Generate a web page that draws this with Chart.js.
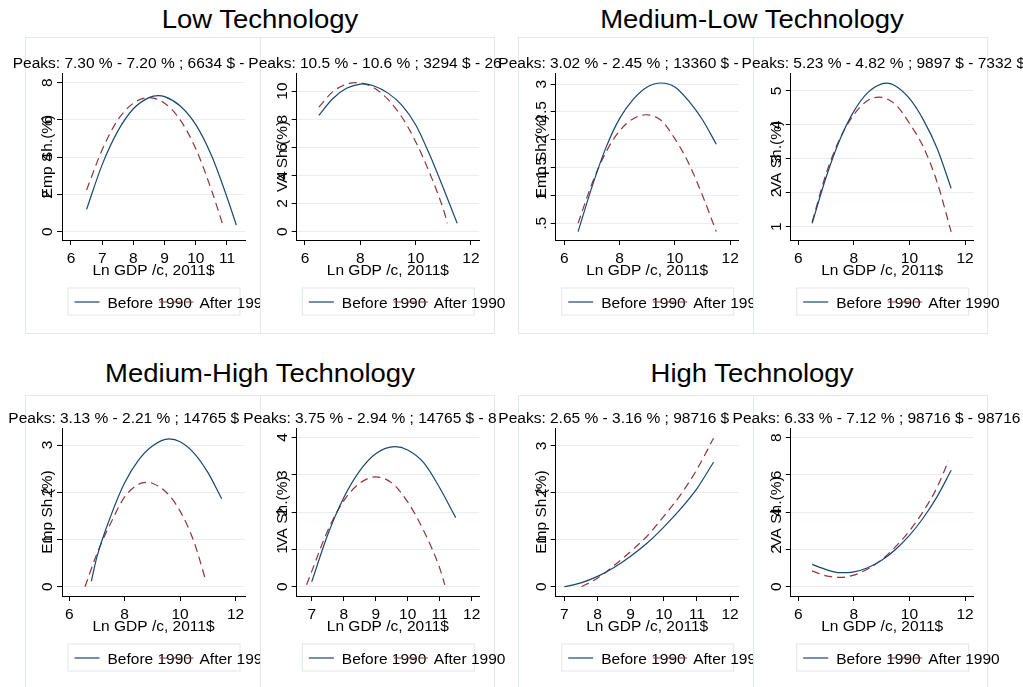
<!DOCTYPE html>
<html>
<head>
<meta charset="utf-8">
<script src="https://cdn.jsdelivr.net/npm/chart.js@4"></script>
<style>
  html, body { margin: 0; padding: 0; background: #fff; }
  body { width: 1023px; height: 687px; position: relative; overflow: hidden; font-family: "Liberation Sans", Arial, sans-serif; }
  .box { position: absolute; border: 1px solid #e1e9ee; box-sizing: border-box; }
  canvas { position: absolute; }
  .title { position: absolute; width: 400px; text-align: center; font-size: 25px; line-height: 24px; color: #000; transform: scaleX(1.1); }
</style>
</head>
<body>
<div class="box" style="left:25px;top:37px;width:236px;height:297px"></div>
<div class="box" style="left:260px;top:37px;width:235px;height:297px"></div>
<div class="box" style="left:518px;top:37px;width:236px;height:297px"></div>
<div class="box" style="left:753px;top:37px;width:235px;height:297px"></div>
<div class="box" style="left:25px;top:395px;width:236px;height:300px"></div>
<div class="box" style="left:260px;top:395px;width:235px;height:300px"></div>
<div class="box" style="left:518px;top:395px;width:236px;height:300px"></div>
<div class="box" style="left:753px;top:395px;width:235px;height:300px"></div>

<canvas id="p1"></canvas><canvas id="p2"></canvas><canvas id="p3"></canvas><canvas id="p4"></canvas>
<canvas id="p5"></canvas><canvas id="p6"></canvas><canvas id="p7"></canvas><canvas id="p8"></canvas>

<div class="title" style="left:60px;top:7px">Low Technology</div>
<div class="title" style="left:552px;top:7px">Medium-Low Technology</div>
<div class="title" style="left:60px;top:361px">Medium-High Technology</div>
<div class="title" style="left:552px;top:361px">High Technology</div>

<script>
// Low technology - employment share
const lowEmpBeforeX = [6.5, 7, 7.5, 8, 8.5, 8.8, 9, 9.5, 10, 10.5, 11, 11.3];
const lowEmpBeforeY = [1.2, 3.6, 5.4, 6.6, 7.2, 7.3, 7.25, 6.75, 5.75, 4.1, 1.85, 0.35];
const lowEmpAfterX = [6.5, 7, 7.5, 8, 8.5, 9, 9.5, 10, 10.5, 10.86];
const lowEmpAfterY = [2.24, 4.4, 6.0, 6.9, 7.2, 6.9, 6.0, 4.45, 2.25, 0.4];
// Low technology - value added share
const lowVaBeforeX = [6.5, 7, 7.5, 8, 8.1, 8.5, 9, 9.5, 10, 10.5, 11, 11.5];
const lowVaBeforeY = [8.26, 9.45, 10.19, 10.49, 10.5, 10.36, 9.85, 9.0, 7.6, 5.5, 3.1, 0.6];
const lowVaAfterX = [6.5, 7, 7.5, 7.85, 8, 8.5, 9, 9.5, 10, 10.5, 11, 11.15];
const lowVaAfterY = [8.85, 9.94, 10.49, 10.6, 10.58, 10.21, 9.4, 8.15, 6.4, 4.2, 1.6, 0.6];
// Medium-low technology
const mlEmpBeforeX = [6.5, 7, 7.5, 8, 8.5, 9, 9.5, 10, 10.5, 11, 11.5];
const mlEmpBeforeY = [0.35, 1.15, 1.85, 2.38, 2.73, 2.95, 3.02, 2.95, 2.7, 2.36, 1.92];
const mlEmpAfterX = [6.5, 7, 7.5, 8, 8.5, 8.95, 9.5, 10, 10.5, 11, 11.5];
const mlEmpAfterY = [0.5, 1.21, 1.77, 2.16, 2.38, 2.45, 2.35, 2.02, 1.58, 1.0, 0.35];
const mlVaBeforeX = [6.5, 7, 7.5, 8, 8.5, 9, 9.2, 9.5, 10, 10.5, 11, 11.5];
const mlVaBeforeY = [1.1, 2.45, 3.57, 4.4, 4.95, 5.21, 5.23, 5.15, 4.78, 4.15, 3.3, 2.13];
const mlVaAfterX = [6.5, 7, 7.5, 8, 8.5, 8.9, 9.5, 10, 10.5, 11, 11.5];
const mlVaAfterY = [1.14, 2.55, 3.6, 4.3, 4.72, 4.82, 4.6, 4.05, 3.35, 2.3, 0.85];
// Medium-high technology
const mhEmpBeforeX = [6.8, 7, 7.5, 8, 8.5, 9, 9.6, 10, 10.5, 11, 11.5];
const mhEmpBeforeY = [0.12, 0.63, 1.5, 2.2, 2.68, 2.98, 3.13, 3.07, 2.83, 2.42, 1.86];
const mhEmpAfterX = [6.57, 7, 7.5, 8, 8.5, 8.8, 9, 9.5, 10, 10.5, 10.93];
const mhEmpAfterY = [0.0, 0.7, 1.35, 1.9, 2.17, 2.21, 2.19, 2.0, 1.6, 0.95, 0.12];
const mhVaBeforeX = [7, 7.5, 8, 8.5, 9, 9.6, 10, 10.5, 11, 11.5];
const mhVaBeforeY = [0.13, 1.39, 2.38, 3.1, 3.56, 3.75, 3.66, 3.32, 2.65, 1.85];
const mhVaAfterX = [6.84, 7, 7.5, 8, 8.5, 9, 9.5, 10, 10.5, 11, 11.16];
const mhVaAfterY = [0.05, 0.41, 1.5, 2.3, 2.77, 2.94, 2.78, 2.27, 1.5, 0.5, 0.05];
// High technology
const hEmpBeforeX = [7, 7.5, 8, 8.5, 9, 9.5, 10, 10.5, 11, 11.5];
const hEmpBeforeY = [0.0, 0.08, 0.22, 0.41, 0.65, 0.93, 1.27, 1.65, 2.09, 2.65];
const hEmpAfterX = [7.52, 8, 8.5, 9, 9.5, 10, 10.5, 11, 11.5];
const hEmpAfterY = [0.0, 0.18, 0.45, 0.75, 1.08, 1.5, 1.95, 2.5, 3.16];
const hVaBeforeX = [6.5, 7, 7.5, 8, 8.5, 9, 9.5, 10, 10.5, 11, 11.5];
const hVaBeforeY = [1.2, 0.92, 0.75, 0.8, 1.02, 1.42, 2.0, 2.75, 3.7, 4.85, 6.25];
const hVaAfterX = [6.5, 7, 7.5, 8, 8.5, 9, 9.5, 10, 10.5, 11, 11.4];
const hVaAfterY = [0.85, 0.58, 0.5, 0.62, 0.95, 1.45, 2.15, 3.0, 4.05, 5.35, 6.75];

const seriesNames = ['Before 1990', 'After 1990'];
const NAVY = '#1a476f';
const MAROON = '#90353b';
const GRID = '#e6eef1';
const FONT = '15.5px "Liberation Sans", Arial, sans-serif';

// canvas: [left, top, width, height]; plot: [left, top, right, bottom] in page px
const panels = [
  { id: 'p1', canvas: [0, 37, 260, 296], plot: [62, 73, 245, 240], xr: [5.712, 11.577], yr: [-0.446, 8.52],
    xt: [6, 7, 8, 9, 10, 11], yt: [0, 2, 4, 6, 8], yl: ['0', '2', '4', '6', '8'], ytitle: 'Emp Sh.(%)',
    peaks: 'Peaks: 7.30 % - 7.20 % ; 6634 $ - ', peakX: 12.7, before: [lowEmpBeforeX, lowEmpBeforeY], after: [lowEmpAfterX, lowEmpAfterY] },
  { id: 'p2', canvas: [240, 37, 265, 296], plot: [296.7, 73, 479, 240], xr: [5.70, 12.29], yr: [-0.59, 11.28],
    xt: [6, 8, 10, 12], yt: [0, 2, 4, 6, 8, 10], yl: ['0', '2', '4', '6', '8', '10'], ytitle: 'VA Sh.(%)',
    peaks: 'Peaks: 10.5 % - 10.6 % ; 3294 $ - 26', peakX: 248.3, before: [lowVaBeforeX, lowVaBeforeY], after: [lowVaAfterX, lowVaAfterY] },
  { id: 'p3', canvas: [495, 37, 258, 296], plot: [555.7, 73, 738.7, 240], xr: [5.69, 12.31], yr: [0.20, 3.20],
    xt: [6, 8, 10, 12], yt: [0.5, 1, 1.5, 2, 2.5, 3], yl: ['.5', '1', '1.5', '2', '2.5', '3'], ytitle: 'Emp Sh.(%)',
    peaks: 'Peaks: 3.02 % - 2.45 % ; 13360 $ - ', peakX: 498.3, before: [mlEmpBeforeX, mlEmpBeforeY], after: [mlEmpAfterX, mlEmpAfterY] },
  { id: 'p4', canvas: [730, 37, 293, 296], plot: [790.7, 73, 973.7, 240], xr: [5.73, 12.31], yr: [0.61, 5.53],
    xt: [6, 8, 10, 12], yt: [1, 2, 3, 4, 5], yl: ['1', '2', '3', '4', '5'], ytitle: 'VA Sh.(%)',
    peaks: 'Peaks: 5.23 % - 4.82 % ; 9897 $ - 7332 $', peakX: 741.6, before: [mlVaBeforeX, mlVaBeforeY], after: [mlVaAfterX, mlVaAfterY] },
  { id: 'p5', canvas: [0, 395, 260, 292], plot: [62, 428, 245, 596], xr: [5.74, 12.34], yr: [-0.197, 3.36],
    xt: [6, 8, 10, 12], yt: [0, 1, 2, 3], yl: ['0', '1', '2', '3'], ytitle: 'Emp Sh.(%)',
    peaks: 'Peaks: 3.13 % - 2.21 % ; 14765 $ - ', peakX: 8.3, before: [mhEmpBeforeX, mhEmpBeforeY], after: [mhEmpAfterX, mhEmpAfterY] },
  { id: 'p6', canvas: [240, 395, 265, 292], plot: [296.7, 428, 479, 596], xr: [6.53, 12.23], yr: [-0.25, 4.25],
    xt: [7, 8, 9, 10, 11, 12], yt: [0, 1, 2, 3, 4], yl: ['0', '1', '2', '3', '4'], ytitle: 'VA Sh.(%)',
    peaks: 'Peaks: 3.75 % - 2.94 % ; 14765 $ - 8', peakX: 243.3, before: [mhVaBeforeX, mhVaBeforeY], after: [mhVaAfterX, mhVaAfterY] },
  { id: 'p7', canvas: [495, 395, 258, 292], plot: [555.7, 428, 738.7, 596], xr: [6.74, 12.26], yr: [-0.198, 3.38],
    xt: [7, 8, 9, 10, 11, 12], yt: [0, 1, 2, 3], yl: ['0', '1', '2', '3'], ytitle: 'Emp Sh.(%)',
    peaks: 'Peaks: 2.65 % - 3.16 % ; 98716 $ - ', peakX: 498.3, before: [hEmpBeforeX, hEmpBeforeY], after: [hEmpAfterX, hEmpAfterY] },
  { id: 'p8', canvas: [730, 395, 293, 292], plot: [790.7, 428, 973.7, 596], xr: [5.73, 12.31], yr: [-0.5, 8.52],
    xt: [6, 8, 10, 12], yt: [0, 2, 4, 6, 8], yl: ['0', '2', '4', '6', '8'], ytitle: 'VA Sh.(%)',
    peaks: 'Peaks: 6.33 % - 7.12 % ; 98716 $ - 98716 $', peakX: 732.6, before: [hVaBeforeX, hVaBeforeY], after: [hVaAfterX, hVaAfterY] }
];

function toXY(xs, ys) {
  return xs.map((x, i) => ({ x: x, y: ys[i] }));
}

// axis labels, rotated y ticks, peaks line and legend, Stata style
const panelText = {
  id: 'panelText',
  afterDraw(chart, args, o) {
    const ctx = chart.ctx, a = chart.chartArea;
    const xs = chart.scales.x, ys = chart.scales.y;
    ctx.save();
    ctx.fillStyle = '#000';
    ctx.font = FONT;
    ctx.textAlign = 'center';
    ctx.textBaseline = 'alphabetic';
    o.xt.forEach(v => ctx.fillText(String(v), xs.getPixelForValue(v), a.bottom + 22.5));
    ctx.fillText('Ln GDP /c, 2011$', (a.left + a.right) / 2, a.bottom + 34.5);

    ctx.textBaseline = 'middle';
    o.yt.forEach((v, i) => {
      ctx.save();
      ctx.translate(a.left - 15, ys.getPixelForValue(v));
      ctx.rotate(-Math.PI / 2);
      ctx.fillText(o.yl[i], 0, 1);
      ctx.restore();
    });
    ctx.save();
    ctx.translate(a.left - 15, (a.top + a.bottom) / 2);
    ctx.rotate(-Math.PI / 2);
    ctx.fillText(o.ytitle, 0, 1);
    ctx.restore();

    ctx.textAlign = 'left';
    ctx.textBaseline = 'alphabetic';
    ctx.fillText(o.peaks, o.peakX, a.top - 5.5);

    // legend
    const ds = chart.data.datasets;
    const bx = (a.left + a.right) / 2 - 86, by = a.bottom + 47.5, ty = a.bottom + 67.5, ly = a.bottom + 62;
    ctx.strokeStyle = '#dfe7eb';
    ctx.lineWidth = 1;
    ctx.strokeRect(bx + 0.5, by + 0.5, 172, 27);
    ctx.fillText(ds[0].label, bx + 40, ty);
    ctx.fillText(ds[1].label, bx + 132, ty);
    ctx.lineWidth = 1.2;
    ctx.strokeStyle = ds[0].borderColor;
    ctx.beginPath(); ctx.moveTo(bx + 7, ly); ctx.lineTo(bx + 32, ly); ctx.stroke();
    ctx.strokeStyle = ds[1].borderColor;
    ctx.setLineDash(ds[1].borderDash);
    ctx.beginPath(); ctx.moveTo(bx + 92, ly); ctx.lineTo(bx + 128, ly); ctx.stroke();
    ctx.restore();
  }
};

panels.forEach(p => {
  const cv = document.getElementById(p.id);
  const [cl, ct, cw, ch] = p.canvas;
  cv.width = cw; cv.height = ch;
  cv.style.left = cl + 'px'; cv.style.top = ct + 'px';
  cv.style.width = cw + 'px'; cv.style.height = ch + 'px';
  const [L, T, R, B] = p.plot;

  new Chart(cv, {
    type: 'line',
    data: {
      datasets: [
        { label: seriesNames[0], data: toXY(p.before[0], p.before[1]), borderColor: NAVY, borderWidth: 1.2,
          pointRadius: 0, fill: false, cubicInterpolationMode: 'monotone' },
        { label: seriesNames[1], data: toXY(p.after[0], p.after[1]), borderColor: MAROON, borderWidth: 1.2,
          borderDash: [8, 5], pointRadius: 0, fill: false, cubicInterpolationMode: 'monotone' }
      ]
    },
    options: {
      responsive: false,
      animation: false,
      events: [],
      layout: { padding: { left: L - cl - 5, top: T - ct, right: cl + cw - R, bottom: ct + ch - B - 5 } },
      plugins: {
        legend: { display: false },
        tooltip: { enabled: false },
        panelText: { xt: p.xt, yt: p.yt, yl: p.yl, ytitle: p.ytitle, peaks: p.peaks, peakX: p.peakX - cl }
      },
      scales: {
        x: {
          type: 'linear', min: p.xr[0], max: p.xr[1],
          ticks: { display: false },
          grid: { drawOnChartArea: false, drawTicks: true, tickLength: 5, tickColor: '#000', tickWidth: 1 },
          border: { display: true, color: '#000', width: 1 },
          afterBuildTicks: ax => { ax.ticks = p.xt.map(v => ({ value: v })); }
        },
        y: {
          type: 'linear', min: p.yr[0], max: p.yr[1],
          ticks: { display: false },
          grid: { color: GRID, lineWidth: 1, drawTicks: true, tickLength: 5, tickColor: '#000', tickWidth: 1 },
          border: { display: true, color: '#000', width: 1 },
          afterBuildTicks: ax => { ax.ticks = p.yt.map(v => ({ value: v })); }
        }
      }
    },
    plugins: [panelText]
  });
});
</script>
</body>
</html>
